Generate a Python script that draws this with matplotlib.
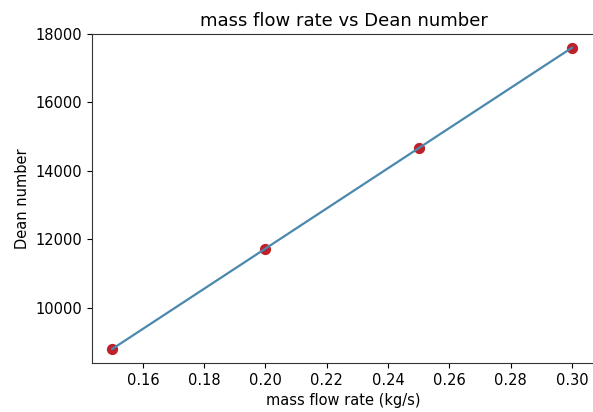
import matplotlib
matplotlib.use("Agg")
import matplotlib.pyplot as plt

mass_flow = [0.15, 0.20, 0.25, 0.30]
dean = [8800, 11733, 14667, 17600]

plt.rcParams['font.size'] = 10.5
fig = plt.figure(figsize=(5.93, 4.12), dpi=100)
W, H = 593, 412
left, right, top, bottom = 92, 595, 34, 363
ax = fig.add_axes([left / W, 1 - bottom / H, (right - left) / W, (bottom - top) / H])

ax.scatter(mass_flow, dean, color='#c0202a', s=50, zorder=2)
ax.plot(mass_flow, dean, color='#4a88ad', linewidth=1.6, zorder=3)

ax.set_title('mass flow rate vs Dean number', pad=6, fontsize=13)
ax.set_xlabel('mass flow rate (kg/s)')
ax.set_ylabel('Dean number')
ax.set_xticks([0.16, 0.18, 0.20, 0.22, 0.24, 0.26, 0.28, 0.30])
ax.set_yticks([10000, 12000, 14000, 16000, 18000])
ax.set_xlim(0.1434, 0.3075)
ax.set_ylim(8390, 18000)
for s in ax.spines.values():
    s.set_color('#333333')

fig.savefig('out.png', dpi=100)
